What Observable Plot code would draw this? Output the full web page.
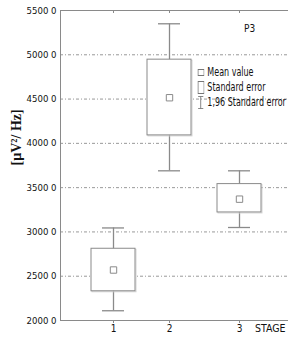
<!DOCTYPE html>
<html>
<head>
<meta charset="utf-8">
<script src="https://cdn.jsdelivr.net/npm/d3@7"></script>
<script src="https://cdn.jsdelivr.net/npm/@observablehq/plot@0.6"></script>
<style>
  body { margin: 0; background: #fff; }
  #wrap { position: relative; width: 289px; height: 347px; font-family: "Liberation Sans Narrow", "DejaVu Sans Condensed", sans-serif; font-stretch: condensed; }
  #legend { position: absolute; left: 197px; top: 65px; font-size: 12px; color: #111; line-height: 15px; transform: scaleX(0.74); transform-origin: left top; }
  #legend div { display: flex; align-items: center; white-space: nowrap; }
  #legend svg { margin-right: 4px; }
  #p3 { position: absolute; left: 244px; top: 23px; font-size: 10px; color: #111; }
</style>
</head>
<body>
<div id="wrap">
  <div id="chart"></div>
  <div id="p3">P3</div>
  <div id="legend"></div>
</div>
<script>
const stages = [1, 2, 3];
const means = [2570, 4515, 3370];
const seLow = [2330, 4090, 3220];
const seHigh = [2810, 4945, 3540];
const ciLow = [2110, 3690, 3050];
const ciHigh = [3045, 5350, 3690];
const yTicks = [2000, 2500, 3000, 3500, 4000, 4500, 5000, 5500];
const gridTicks = [2500, 3000, 3500, 4000, 4500, 5000];
const legendItems = ["Mean value", "Standard error", "1,96 Standard error"];
const panelLabel = "P3";
const yLabel = "[µV²/ Hz]";
const xLabel = "STAGE";

const data = stages.map((s, i) => ({
  stage: s, mean: means[i], lo: seLow[i], hi: seHigh[i], cilo: ciLow[i], cihi: ciHigh[i]
}));

const gray = "#8a8a8a";
const font = "'Liberation Sans Narrow', 'DejaVu Sans Condensed', sans-serif";
const yMin = yTicks[0], yMax = yTicks[yTicks.length - 1];

const chart = Plot.plot({
  width: 289,
  height: 347,
  marginLeft: 60,
  marginTop: 10,
  marginBottom: 27,
  marginRight: 1,
  style: { fontFamily: font, fontSize: "10px", color: "#111", background: "#fff", fontStretch: "condensed" },
  x: { type: "linear", domain: [0, 1, 2, 3, 4], range: [60, 113, 169, 239, 288], axis: null },
  y: { domain: [yMin, yMax], axis: null },
  marks: [
    Plot.ruleY(gridTicks, { stroke: "#999", strokeDasharray: "3,2,1,2", strokeWidth: 1 }),
    Plot.ruleY([yMin, yMax], { stroke: gray, strokeWidth: 1 }),
    Plot.ruleX([0], { stroke: gray, strokeWidth: 1 }),
    Plot.text(yTicks, { y: d => d, frameAnchor: "left", text: d => `${d} 0`, textAnchor: "end", dx: -4, fontSize: 9.5, fill: "#111" }),
    Plot.text(stages, { x: d => d, frameAnchor: "bottom", text: d => String(d), dy: 11, fontSize: 10, fill: "#111" }),
    Plot.ruleX(stages, { x: d => d, y1: yMin, y2: yMin, insetBottom: -3, stroke: gray }),
    Plot.ruleX(stages, { x: d => d, y1: yMax, y2: yMax, insetBottom: -3, stroke: gray }),
    // whiskers
    Plot.ruleX(data, { x: "stage", y1: "cilo", y2: "cihi", stroke: gray, strokeWidth: 1.3 }),
    Plot.ruleY(data, { y: "cilo", x1: "stage", x2: "stage", insetLeft: -11, insetRight: -11, stroke: gray, strokeWidth: 1.3 }),
    Plot.ruleY(data, { y: "cihi", x1: "stage", x2: "stage", insetLeft: -11, insetRight: -11, stroke: gray, strokeWidth: 1.3 }),
    // box shadow
    Plot.rect(data, { x1: "stage", x2: "stage", y1: "lo", y2: "hi", insetLeft: -21, insetRight: -23, insetTop: 1, insetBottom: -1, fill: "none", stroke: "#d4d4d4", strokeWidth: 1 }),
    // boxes
    Plot.rect(data, { x1: "stage", x2: "stage", y1: "lo", y2: "hi", insetLeft: -22, insetRight: -22, fill: "white", stroke: gray, strokeWidth: 1 }),
    Plot.dot(data, { x: "stage", y: "mean", symbol: "square", r: 3.6, fill: "white", stroke: gray, strokeWidth: 1 }),
    Plot.text([xLabel], { frameAnchor: "bottom-right", dx: -3, dy: 11, fontSize: 10.5, fontFamily: font, letterSpacing: "1px", fill: "#111" }),
    Plot.text([yLabel], { frameAnchor: "left", rotate: -90, dx: -44, fontSize: 14, fontFamily: "'Liberation Serif', 'Times New Roman', serif", fontWeight: "bold", fill: "#111" })
  ]
});
document.getElementById("chart").appendChild(chart);

document.getElementById("p3").textContent = panelLabel;

const icons = [
  `<svg width="10" height="9"><rect x="1.5" y="1.5" width="8" height="6" fill="none" stroke="#777"/></svg>`,
  `<svg width="10" height="13"><rect x="1.5" y="0.5" width="8" height="12" fill="none" stroke="#777"/></svg>`,
  `<svg width="10" height="13"><path d="M1.5,0.5H8.5M5,0.5V12.5M1.5,12.5H8.5" fill="none" stroke="#777"/></svg>`
];
const leg = document.getElementById("legend");
legendItems.forEach((t, i) => {
  const d = document.createElement("div");
  d.innerHTML = icons[i] + `<span>${t}</span>`;
  leg.appendChild(d);
});
</script>
</body>
</html>
